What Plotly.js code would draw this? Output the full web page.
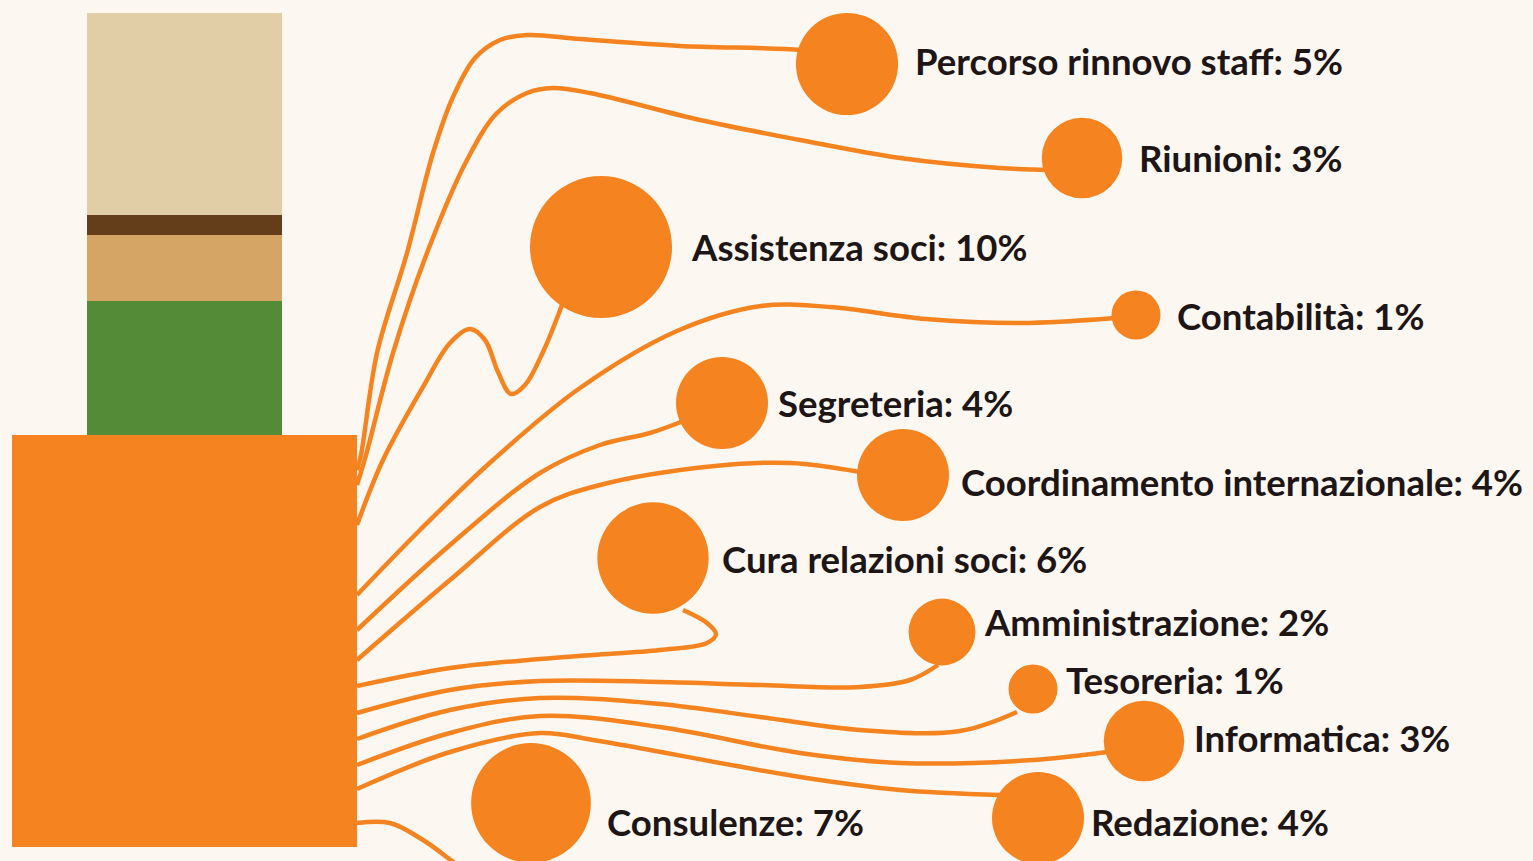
<!DOCTYPE html>
<html>
<head>
<meta charset="utf-8">
<script src="https://cdn.plot.ly/plotly-3.0.1.min.js"></script>
<style>
  html, body { margin: 0; padding: 0; background: #FCF7F0; }
  #chart { width: 1533px; height: 861px; }
</style>
</head>
<body>
<div id="chart"></div>
<script>
// ---- data ----
const categories = ["Percorso rinnovo staff", "Riunioni", "Assistenza soci", "Contabilità", "Segreteria",
  "Coordinamento internazionale", "Cura relazioni soci", "Amministrazione", "Tesoreria", "Informatica",
  "Consulenze", "Redazione"];
const shares = [5, 3, 10, 1, 4, 4, 6, 2, 1, 3, 7, 4];

// stacked block on the left (pixel-scale heights as drawn)
const stackColors = ["#E2CEA6", "#643D1B", "#D5A566", "#538B36"];
const stackBase = [13, 215, 235, 301];
const stackHeight = [202, 20, 66, 134];

// ---- layout of the bubbles (positions on the canvas axes) ----
const circleX = [847, 1082, 601, 1136, 722, 903, 653, 942, 1033, 1144, 531, 1038];
const circleY = [64, 158, 247, 315, 403, 475, 558, 632, 689, 741, 803, 818];
const labelX = [913, 1137, 689, 1175, 776, 959, 720, 982, 1064, 1192, 605, 1089];
const labelY = [61, 158, 247, 316, 403, 482, 559, 622, 680, 738, 822, 822];

// connector routes (waypoints for each curve, from the orange block to the bubble)
const routes = [
  [[357,470],[361,455],[377,353],[407,253],[433,153],[453,97],[475,58],[500,40],[527,35],[580,39],[680,46],[800,50],[830,55]],
  [[357,485],[366,455],[393,353],[427,253],[467,160],[497,113],[527,93],[553,88],[590,93],[700,120],[800,140],[900,158],[1000,168],[1050,170]],
  [[357,525],[383,460],[423,387],[450,343],[470,329],[485,340],[498,372],[511,394],[525,385],[543,352],[562,305]],
  [[357,595],[420,530],[493,460],[580,388],[677,331],[761,306],[830,307],[926,319],[1021,323],[1115,318]],
  [[357,630],[450,545],[540,473],[600,445],[650,433],[686,420]],
  [[357,660],[450,580],[540,507],[600,485],[715,466],[791,463],[860,472]],
  [[357,686],[450,668],[540,659],[593,655],[660,650],[707,643],[716,634],[707,623],[683,610]],
  [[357,713],[450,690],[540,681],[660,682],[760,685],[860,687],[910,680],[938,665]],
  [[357,739],[450,710],[540,698],[660,704],[760,717],[860,730],[960,731],[1017,712]],
  [[357,765],[450,733],[540,716],[660,727],[800,753],[900,763],[1033,760],[1107,752]],
  [[357,823],[390,823],[423,840],[452,861],[470,875]],
  [[357,789],[450,752],[540,733],[593,740],[800,777],[900,790],[1000,795]]
];

// ---- styles ----
const ORANGE = "#F5831F";
const TEXT = "#1E1616";
const sizeScale = p => 43 * Math.sqrt(p) + 6;

const traces = [];

// left stack
traces.push({
  type: "bar", x: stackHeight.map(() => 184.5), y: stackHeight, base: stackBase,
  width: stackHeight.map(() => 195), marker: { color: stackColors, line: { width: 0 } },
  hoverinfo: "skip", showlegend: false
});
// big orange block
traces.push({
  type: "bar", x: [184.5], y: [412], base: [435], width: [345],
  marker: { color: ORANGE, line: { width: 0 } }, hoverinfo: "skip", showlegend: false
});

// connectors
routes.forEach(r => {
  traces.push({
    type: "scatter", mode: "lines",
    x: r.map(p => p[0]), y: r.map(p => p[1]),
    line: { color: ORANGE, width: 4.5, shape: "spline", smoothing: 1 },
    hoverinfo: "skip", showlegend: false
  });
});

// bubbles
traces.push({
  type: "scatter", mode: "markers", x: circleX, y: circleY,
  marker: { color: ORANGE, size: shares.map(sizeScale), line: { width: 0 }, opacity: 1 },
  text: categories, hoverinfo: "text", showlegend: false
});

const annotations = categories.map((c, i) => ({
  x: labelX[i], y: labelY[i], xref: "x", yref: "y",
  text: c + ": " + shares[i] + "%", showarrow: false,
  xanchor: "left", yanchor: "middle",
  font: { family: "Lato, 'Open Sans', sans-serif", size: 36.6, color: TEXT, weight: 700 }
}));

const layout = {
  width: 1533, height: 861,
  margin: { l: 0, r: 0, t: 0, b: 0 },
  paper_bgcolor: "#FCF7F0", plot_bgcolor: "#FCF7F0",
  xaxis: { range: [0, 1533], visible: false, fixedrange: true },
  yaxis: { range: [861, 0], visible: false, fixedrange: true },
  barmode: "overlay",
  showlegend: false,
  annotations: annotations
};

Plotly.newPlot("chart", traces, layout, { displayModeBar: false, staticPlot: true });
</script>
</body>
</html>
